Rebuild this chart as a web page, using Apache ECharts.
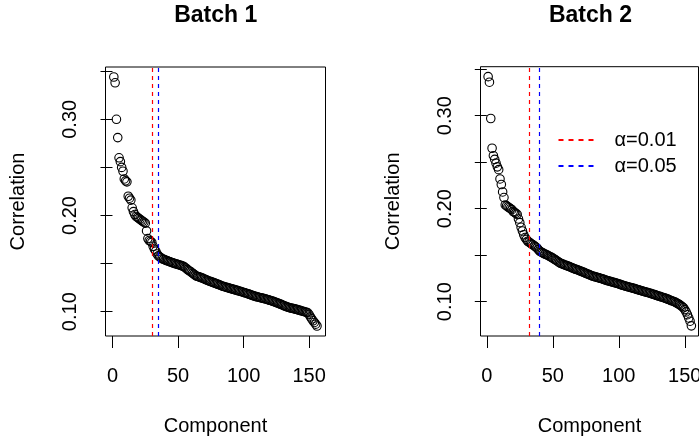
<!DOCTYPE html>
<html>
<head>
<meta charset="utf-8">
<script src="https://cdn.jsdelivr.net/npm/echarts@6/dist/echarts.min.js"></script>
<style>
html,body{margin:0;padding:0;background:#fff;}
#chart{width:699px;height:436px;}
</style>
</head>
<body>
<div id="chart"></div>
<script>
// ---- data ----
const titles = ['Batch 1', 'Batch 2'];
const xName = 'Component';
const yName = 'Correlation';
const corr1 = [
0.344,0.338,0.300,0.281,0.260,0.256,0.250,0.246,0.238,0.236,
0.235,0.220,0.218,0.216,0.208,0.204,0.201,0.199,0.198,0.197,
0.196,0.195,0.194,0.193,0.192,0.184,0.176,0.174,0.173,0.172,
0.168,0.165,0.163,0.160,0.158,0.157,0.156,0.155,0.1545,0.1540,
0.1532,0.1528,0.1522,0.1518,0.1512,0.1508,0.1503,0.1498,0.1494,0.1490,
0.1486,0.1481,0.1477,0.1472,0.1463,0.1452,0.1440,0.1430,0.1421,0.1412,
0.1400,0.1390,0.1380,0.1370,0.1366,0.1362,0.1357,0.1352,0.1347,0.1340,
0.1334,0.1328,0.1322,0.1317,0.1312,0.1307,0.1302,0.1297,0.1292,0.1287,
0.1282,0.1276,0.1270,0.1265,0.1261,0.1257,0.1253,0.1249,0.1245,0.1241,
0.1237,0.1233,0.1229,0.1225,0.1221,0.1217,0.1213,0.1209,0.1205,0.1200,
0.1196,0.1192,0.1187,0.1183,0.1178,0.1173,0.1168,0.1163,0.1159,0.1155,
0.1152,0.1148,0.1145,0.1141,0.1138,0.1135,0.1131,0.1127,0.1123,0.1118,
0.1114,0.1110,0.1105,0.1100,0.1095,0.1090,0.1084,0.1078,0.1073,0.1067,
0.1061,0.1056,0.1051,0.1046,0.1041,0.1038,0.1035,0.1032,0.1029,0.1025,
0.1021,0.1017,0.1013,0.1009,0.1005,0.1001,0.0997,0.0993,0.0988,0.0970,
0.0945,0.0925,0.0905,0.0888,0.0870,0.0851
];
const corr2 = [
0.342,0.336,0.297,0.265,0.257,0.253,0.249,0.245,0.242,0.232,
0.226,0.218,0.212,0.204,0.203,0.202,0.201,0.200,0.199,0.197,
0.196,0.195,0.194,0.189,0.185,0.180,0.176,0.172,0.169,0.167,
0.165,0.164,0.163,0.162,0.1612,0.1600,0.1590,0.1578,0.1560,0.1545,
0.1535,0.1528,0.1520,0.1513,0.1507,0.1500,0.1492,0.1484,0.1476,0.1468,
0.1459,0.1450,0.1441,0.1430,0.1420,0.1413,0.1407,0.1401,0.1395,0.1390,
0.1385,0.1380,0.1374,0.1368,0.1362,0.1356,0.1351,0.1346,0.1341,0.1335,
0.1329,0.1323,0.1318,0.1312,0.1306,0.1300,0.1294,0.1288,0.1282,0.1276,
0.1272,0.1268,0.1264,0.1260,0.1256,0.1252,0.1247,0.1243,0.1238,0.1233,
0.1228,0.1224,0.1220,0.1216,0.1212,0.1208,0.1204,0.1200,0.1196,0.1191,
0.1186,0.1181,0.1176,0.1172,0.1168,0.1164,0.1160,0.1156,0.1152,0.1148,
0.1144,0.1140,0.1136,0.1131,0.1127,0.1123,0.1118,0.1114,0.1110,0.1106,
0.1102,0.1098,0.1094,0.1090,0.1085,0.1080,0.1076,0.1071,0.1066,0.1061,
0.1057,0.1052,0.1048,0.1043,0.1038,0.1033,0.1028,0.1022,0.1016,0.1010,
0.1005,0.1000,0.0993,0.0985,0.0977,0.0968,0.0958,0.0947,0.0935,0.0915,
0.0890,0.0860,0.0825,0.0790,0.0740
];
const cut1 = [30, 35];   // alpha=0.01, alpha=0.05
const cut2 = [32, 40];
const alphaNames = ['α=0.01', 'α=0.05'];
const xTicks = [0, 50, 100, 150];
const yTicks = [0.10, 0.15, 0.20, 0.25, 0.30, 0.35];
const yLabels = [0.10, 0.20, 0.30];

// ---- chart ----
const FONT = '"Liberation Sans", Arial, Helvetica, sans-serif';
const toPairs = arr => arr.map((v, i) => [i + 1, v]);
const cutColors = ['#FF0000', '#0000FF'];

function xAxisCfg(gi, min, max) {
  return {
    type: 'value', gridIndex: gi, min: min, max: max,
    axisLine: {show: false}, splitLine: {show: false},
    axisTick: {show: true, customValues: xTicks, length: 12, lineStyle: {color: '#000', width: 1}},
    axisLabel: {customValues: xTicks, fontSize: 20, color: '#000', fontFamily: FONT, margin: 30},
    name: xName, nameLocation: 'middle', nameGap: 80,
    nameTextStyle: {fontSize: 20, color: '#000', fontFamily: FONT}
  };
}
function yAxisCfg(gi, min, max) {
  return {
    type: 'value', gridIndex: gi, min: min, max: max,
    axisLine: {show: false}, splitLine: {show: false},
    axisTick: {show: true, customValues: yTicks, length: 12, lineStyle: {color: '#000', width: 1}},
    axisLabel: {customValues: yLabels, rotate: 90, fontSize: 20, color: '#000', fontFamily: FONT, margin: 25,
      formatter: v => Number(v).toFixed(2)},
    name: yName, nameLocation: 'middle', nameGap: 77,
    nameTextStyle: {fontSize: 20, color: '#000', fontFamily: FONT}
  };
}
function scatterCfg(gi, data, cuts) {
  return {
    type: 'scatter', xAxisIndex: gi, yAxisIndex: gi,
    data: toPairs(data), symbol: 'circle', symbolSize: 8.5,
    itemStyle: {color: 'rgba(0,0,0,0)', borderColor: '#000', borderWidth: 1.1, opacity: 1},
    emphasis: {disabled: true},
    markLine: {
      silent: true, symbol: ['none', 'none'], label: {show: false}, animation: false,
      lineStyle: {type: [4, 4], width: 1},
      data: cuts.map((c, k) => ({xAxis: c, lineStyle: {color: cutColors[k], type: [4, 4], width: 1.2}}))
    }
  };
}

const chart = echarts.init(document.getElementById('chart'), null, {renderer: 'canvas'});
chart.setOption({
  animation: false,
  backgroundColor: '#fff',
  textStyle: {fontFamily: FONT},
  grid: [
    {left: 105.5, top: 67, width: 220, height: 269, show: true, borderColor: '#000', borderWidth: 1,
      backgroundColor: 'transparent', containLabel: false, outerBoundsMode: 'none'},
    {left: 480.5, top: 66.7, width: 218, height: 269.3, show: true, borderColor: '#000', borderWidth: 1,
      backgroundColor: 'transparent', containLabel: false, outerBoundsMode: 'none'}
  ],
  xAxis: [xAxisCfg(0, -5.34, 162.5), xAxisCfg(1, -4.77, 160.4)],
  yAxis: [yAxisCfg(0, 0.0747, 0.3544), yAxisCfg(1, 0.0631, 0.3527)],
  legend: {
    orient: 'vertical', left: 557.5, top: 130, padding: 0,
    itemWidth: 37, itemHeight: 20, itemGap: 6,
    itemStyle: {opacity: 0},
    textStyle: {fontSize: 20, color: '#000', fontFamily: FONT, padding: [0, 0, 0, 14]},
    data: alphaNames, selectedMode: false
  },
  graphic: [
    {type: 'text', x: 215.7, y: 16, style: {text: titles[0], font: 'bold 23px ' + FONT, fill: '#000', align: 'center', verticalAlign: 'middle'}},
    {type: 'text', x: 590.5, y: 16, style: {text: titles[1], font: 'bold 23px ' + FONT, fill: '#000', align: 'center', verticalAlign: 'middle'}}
  ],
  series: [
    scatterCfg(0, corr1, cut1),
    scatterCfg(1, corr2, cut2),
    {type: 'line', name: alphaNames[0], xAxisIndex: 1, yAxisIndex: 1, data: [], symbol: 'none',
      itemStyle: {color: cutColors[0]}, lineStyle: {color: cutColors[0], type: [5, 5], width: 1.2}},
    {type: 'line', name: alphaNames[1], xAxisIndex: 1, yAxisIndex: 1, data: [], symbol: 'none',
      itemStyle: {color: cutColors[1]}, lineStyle: {color: cutColors[1], type: [5, 5], width: 1.2}}
  ]
});
</script>
</body>
</html>
